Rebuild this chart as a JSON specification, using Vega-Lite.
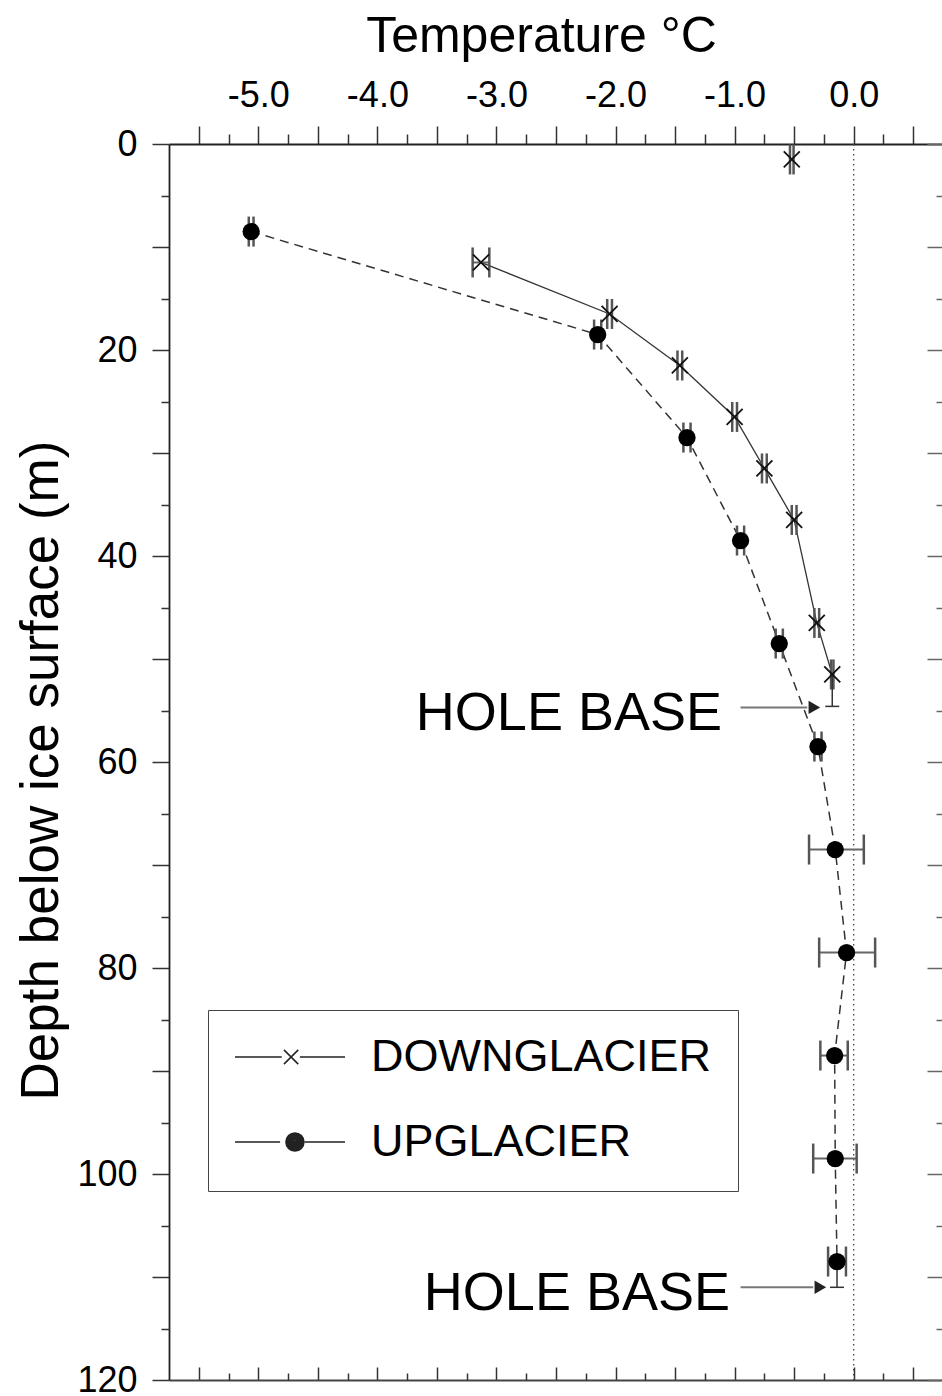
{
  "$schema": "https://vega.github.io/schema/vega-lite/v6.json",
  "width": 774,
  "height": 1236,
  "autosize": "none",
  "padding": {"left": 169, "top": 144, "right": 0, "bottom": 16},
  "background": "white",
  "config": {
    "view": {"stroke": null},
    "axis": {
      "grid": false,
      "labelFont": "Liberation Sans",
      "titleFont": "Liberation Sans",
      "labelColor": "black",
      "titleColor": "black",
      "tickColor": "#333",
      "domainColor": "#222",
      "tickWidth": 1.5,
      "domainWidth": 1.8,
      "titleFontWeight": "normal",
      "labelFlush": false,
      "labelOverlap": false
    },
    "text": {"font": "Liberation Sans"}
  },
  "datasets": {
    "pts": [
      {"series": "DOWNGLACIER", "depth": 1.5, "temp": -0.52, "lo": -0.535, "hi": -0.505},
      {"series": "DOWNGLACIER", "depth": 11.5, "temp": -3.13, "lo": -3.2, "hi": -3.06},
      {"series": "DOWNGLACIER", "depth": 16.5, "temp": -2.05, "lo": -2.07, "hi": -2.03},
      {"series": "DOWNGLACIER", "depth": 21.5, "temp": -1.46, "lo": -1.48, "hi": -1.44},
      {"series": "DOWNGLACIER", "depth": 26.5, "temp": -1.0, "lo": -1.02, "hi": -0.98},
      {"series": "DOWNGLACIER", "depth": 31.5, "temp": -0.75, "lo": -0.77, "hi": -0.73},
      {"series": "DOWNGLACIER", "depth": 36.5, "temp": -0.5, "lo": -0.52, "hi": -0.48},
      {"series": "DOWNGLACIER", "depth": 46.5, "temp": -0.31, "lo": -0.33, "hi": -0.29},
      {"series": "DOWNGLACIER", "depth": 51.5, "temp": -0.18, "lo": -0.19, "hi": -0.17},
      {"series": "UPGLACIER", "depth": 8.5, "temp": -5.06, "lo": -5.08, "hi": -5.04},
      {"series": "UPGLACIER", "depth": 18.5, "temp": -2.15, "lo": -2.18, "hi": -2.12},
      {"series": "UPGLACIER", "depth": 28.5, "temp": -1.4, "lo": -1.43, "hi": -1.37},
      {"series": "UPGLACIER", "depth": 38.5, "temp": -0.95, "lo": -0.98, "hi": -0.92},
      {"series": "UPGLACIER", "depth": 48.5, "temp": -0.625, "lo": -0.655, "hi": -0.595},
      {"series": "UPGLACIER", "depth": 58.5, "temp": -0.3, "lo": -0.33, "hi": -0.27},
      {"series": "UPGLACIER", "depth": 68.5, "temp": -0.155, "lo": -0.375, "hi": 0.085},
      {"series": "UPGLACIER", "depth": 78.5, "temp": -0.06, "lo": -0.29, "hi": 0.18},
      {"series": "UPGLACIER", "depth": 88.5, "temp": -0.16, "lo": -0.28, "hi": -0.05},
      {"series": "UPGLACIER", "depth": 98.5, "temp": -0.155, "lo": -0.34, "hi": 0.025},
      {"series": "UPGLACIER", "depth": 108.5, "temp": -0.14, "lo": -0.215, "hi": -0.065}
    ],
    "vbars": [
      {"series": "DOWNGLACIER", "temp": -0.18, "d1": 51.5, "d2": 54.6},
      {"series": "UPGLACIER", "temp": -0.14, "d1": 108.5, "d2": 111.0}
    ],
    "notes": [
      {"label": "HOLE BASE", "temp": -1.106, "depth": 56.9, "ad": 54.7, "t1": -0.95, "t2": -0.39, "th": -0.33},
      {"label": "HOLE BASE", "temp": -1.039, "depth": 113.2, "ad": 111.0, "t1": -0.95, "t2": -0.34, "th": -0.28}
    ]
  },
  "layer": [
    {
      "data": {"values": [{"temp": 0}]},
      "mark": {"type": "rule", "strokeDash": [1.5, 3.5], "color": "#444", "strokeWidth": 1.3},
      "encoding": {
        "x": {"field": "temp", "type": "quantitative", "scale": {"domain": [-5.75, 0.75], "nice": false, "zero": false}, "axis": null}
      }
    },
    {
      "data": {"name": "pts"},
      "transform": [{"filter": "datum.series === 'DOWNGLACIER' && datum.depth > 5"}],
      "mark": {"type": "line", "color": "#333", "strokeWidth": 1.3},
      "encoding": {
        "x": {"field": "temp", "type": "quantitative", "scale": {"domain": [-5.75, 0.75], "nice": false, "zero": false},
          "axis": {"orient": "top", "values": [-5.5, -5, -4.5, -4, -3.5, -3, -2.5, -2, -1.5, -1, -0.5, 0, 0.5], "tickSize": 18, "labelFontSize": 36, "labelPadding": 12,
            "labelExpr": "datum.value % 1 === 0 ? (datum.value < 0 ? '-' : '') + format(abs(datum.value), '.1f') : ''",
            "title": "Temperature °C", "titleFontSize": 50, "titlePadding": 16, "titleX": 372}},
        "y": {"field": "depth", "type": "quantitative", "scale": {"domain": [0, 120], "reverse": true, "nice": false, "zero": false},
          "axis": {"orient": "left", "values": [0, 10, 20, 30, 40, 50, 60, 70, 80, 90, 100, 110, 120], "tickSize": 17, "labelFontSize": 36, "labelPadding": 15,
            "labelExpr": "datum.value % 20 === 0 ? datum.label : ''",
            "title": "Depth below ice surface (m)", "titleFontSize": 53, "titlePadding": 8, "titleY": 626}},
        "order": {"field": "depth", "type": "quantitative"}
      }
    },
    {
      "data": {"name": "pts"},
      "transform": [{"filter": "datum.series === 'UPGLACIER'"}],
      "mark": {"type": "line", "color": "#333", "strokeWidth": 1.5, "strokeDash": [9, 6]},
      "encoding": {
        "x": {"field": "temp", "type": "quantitative", "scale": {"domain": [-5.75, 0.75], "nice": false, "zero": false},
          "axis": {"orient": "top", "values": [-5.25, -4.75, -4.25, -3.75, -3.25, -2.75, -2.25, -1.75, -1.25, -0.75, -0.25, 0.25], "tickSize": 10, "labels": false, "title": null, "domain": false}},
        "y": {"field": "depth", "type": "quantitative", "scale": {"domain": [0, 120], "reverse": true, "nice": false, "zero": false},
          "axis": {"orient": "left", "values": [5, 15, 25, 35, 45, 55, 65, 75, 85, 95, 105, 115], "tickSize": 8, "labels": false, "title": null, "domain": false}},
        "order": {"field": "depth", "type": "quantitative"}
      }
    },
    {
      "data": {"name": "pts"},
      "mark": {"type": "rule", "color": "#666", "strokeWidth": 2},
      "encoding": {
        "x": {"field": "lo", "type": "quantitative", "scale": {"domain": [-5.75, 0.75], "nice": false, "zero": false},
          "axis": {"orient": "top", "offset": -1236, "values": [-5.5, -5, -4.5, -4, -3.5, -3, -2.5, -2, -1.5, -1, -0.5, 0, 0.5], "tickSize": 13, "labels": false, "title": null, "domainColor": "#444"}},
        "x2": {"field": "hi"},
        "y": {"field": "depth", "type": "quantitative", "scale": {"domain": [0, 120], "reverse": true, "nice": false, "zero": false},
          "axis": {"orient": "left", "offset": -774, "values": [0, 10, 20, 30, 40, 50, 60, 70, 80, 90, 100, 110, 120], "tickSize": 16, "labels": false, "title": null, "domainColor": "#666", "tickColor": "#666"}}
      }
    },
    {
      "data": {"name": "pts"},
      "mark": {"type": "tick", "orient": "vertical", "size": 30, "thickness": 2.5, "color": "#555", "opacity": 1},
      "encoding": {
        "x": {"field": "lo", "type": "quantitative", "scale": {"domain": [-5.75, 0.75], "nice": false, "zero": false},
          "axis": {"orient": "top", "offset": -1236, "values": [-5.25, -4.75, -4.25, -3.75, -3.25, -2.75, -2.25, -1.75, -1.25, -0.75, -0.25, 0.25], "tickSize": 7, "labels": false, "title": null, "domain": false}},
        "y": {"field": "depth", "type": "quantitative", "scale": {"domain": [0, 120], "reverse": true, "nice": false, "zero": false},
          "axis": {"orient": "left", "offset": -774, "values": [5, 15, 25, 35, 45, 55, 65, 75, 85, 95, 105, 115], "tickSize": 7, "labels": false, "title": null, "domain": false, "tickColor": "#666"}}
      }
    },
    {
      "data": {"name": "pts"},
      "mark": {"type": "tick", "orient": "vertical", "size": 30, "thickness": 2.5, "color": "#555", "opacity": 1},
      "encoding": {
        "x": {"field": "hi", "type": "quantitative", "axis": null},
        "y": {"field": "depth", "type": "quantitative", "axis": null}
      }
    },
    {
      "data": {"name": "vbars"},
      "mark": {"type": "rule", "color": "#333", "strokeWidth": 1.5},
      "encoding": {
        "x": {"field": "temp", "type": "quantitative", "axis": null},
        "y": {"field": "d1", "type": "quantitative", "axis": null},
        "y2": {"field": "d2"}
      }
    },
    {
      "data": {"name": "vbars"},
      "mark": {"type": "tick", "orient": "horizontal", "size": 14, "thickness": 1.5, "color": "#333", "opacity": 1},
      "encoding": {
        "x": {"field": "temp", "type": "quantitative", "axis": null},
        "y": {"field": "d2", "type": "quantitative", "axis": null}
      }
    },
    {
      "data": {"name": "pts"},
      "transform": [{"filter": "datum.series === 'DOWNGLACIER'"}],
      "mark": {"type": "point", "shape": "M-1,-1L1,1M-1,1L1,-1", "size": 256, "filled": false, "stroke": "#111", "strokeWidth": 1.8, "opacity": 1},
      "encoding": {
        "x": {"field": "temp", "type": "quantitative", "axis": null},
        "y": {"field": "depth", "type": "quantitative", "axis": null}
      }
    },
    {
      "data": {"name": "pts"},
      "transform": [{"filter": "datum.series === 'UPGLACIER'"}],
      "mark": {"type": "point", "shape": "circle", "size": 300, "filled": true, "color": "black", "opacity": 1},
      "encoding": {
        "x": {"field": "temp", "type": "quantitative", "axis": null},
        "y": {"field": "depth", "type": "quantitative", "axis": null}
      }
    },
    {
      "data": {"name": "pts"},
      "mark": {"type": "point", "filled": false, "color": "#222", "strokeWidth": 1.5, "opacity": 0},
      "encoding": {
        "x": {"field": "temp", "type": "quantitative", "axis": null},
        "y": {"field": "depth", "type": "quantitative", "axis": null},
        "shape": {"field": "series", "type": "nominal",
          "scale": {"domain": ["DOWNGLACIER", "UPGLACIER"],
            "range": ["M-1,0L-0.15,0M0.18,0L1,0M-0.11,-0.13L0.15,0.13M-0.11,0.13L0.15,-0.13",
                      "M-1,0L-0.18,0M0.27,0L1,0M-0.074,0A0.164,0.164 0 1,0 0.254,0A0.164,0.164 0 1,0 -0.074,0ZM-0.05,0A0.14,0.14 0 1,0 0.23,0A0.14,0.14 0 1,0 -0.05,0ZM-0.025,0A0.115,0.115 0 1,0 0.205,0A0.115,0.115 0 1,0 -0.025,0ZM0,0A0.09,0.09 0 1,0 0.18,0A0.09,0.09 0 1,0 0,0ZM0.025,0A0.065,0.065 0 1,0 0.155,0A0.065,0.065 0 1,0 0.025,0ZM0.05,0A0.04,0.04 0 1,0 0.13,0A0.04,0.04 0 1,0 0.05,0ZM0.075,0A0.015,0.015 0 1,0 0.105,0A0.015,0.015 0 1,0 0.075,0Z"]},
          "legend": {"title": null, "orient": "none", "legendX": 39, "legendY": 866, "direction": "vertical",
            "symbolSize": 12100, "symbolStrokeWidth": 1.5, "symbolStrokeColor": "#222", "symbolFillColor": "black", "symbolOpacity": 1,
            "labelFont": "Liberation Sans", "labelFontSize": 45, "labelColor": "black", "labelOffset": 25, "labelLimit": 1000,
            "padding": 26, "strokeColor": "#444", "fillColor": "white", "clipHeight": 42, "rowPadding": 40,
            "encode": {"symbols": {"stroke": {"value": "#222"}, "strokeWidth": {"value": 1.5}, "fill": {"value": "black"}, "opacity": {"value": 1}, "strokeOpacity": {"value": 1}}}}}
      }
    },
    {
      "data": {"name": "notes"},
      "mark": {"type": "text", "align": "right", "baseline": "alphabetic", "fontSize": 54, "font": "Liberation Sans", "color": "black"},
      "encoding": {
        "x": {"field": "temp", "type": "quantitative", "axis": null},
        "y": {"field": "depth", "type": "quantitative", "axis": null},
        "text": {"field": "label"}
      }
    },
    {
      "data": {"name": "notes"},
      "mark": {"type": "rule", "color": "#777", "strokeWidth": 2},
      "encoding": {
        "x": {"field": "t1", "type": "quantitative", "axis": null},
        "x2": {"field": "t2"},
        "y": {"field": "ad", "type": "quantitative", "axis": null}
      }
    },
    {
      "data": {"name": "notes"},
      "mark": {"type": "point", "shape": "triangle-right", "size": 180, "filled": true, "color": "#222", "opacity": 1},
      "encoding": {
        "x": {"field": "th", "type": "quantitative", "axis": null},
        "y": {"field": "ad", "type": "quantitative", "axis": null}
      }
    }
  ],
  "resolve": {"axis": {"x": "independent", "y": "independent"}}
}
